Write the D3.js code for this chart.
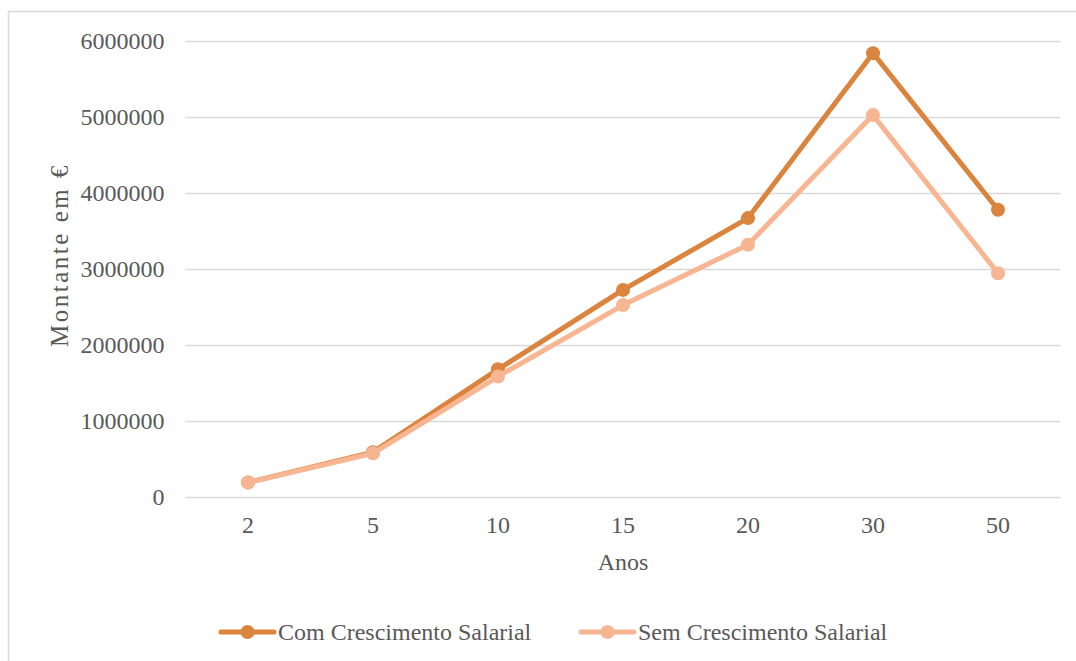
<!DOCTYPE html>
<html>
<head>
<meta charset="utf-8">
<script src="https://cdn.jsdelivr.net/npm/d3@7/dist/d3.min.js"></script>
<style>
  html, body { margin: 0; padding: 0; background: #ffffff; }
  svg { display: block; }
  text { font-family: "Liberation Serif", "Times New Roman", serif; fill: #595959; }
</style>
</head>
<body>
<svg id="chart" width="1076" height="661"></svg>
<script>
// Anos de contribuição (categorias do eixo X)
const anos = ["2", "5", "10", "15", "20", "30", "50"];
// Montante acumulado em euros
const comCrescimento = [192000, 590000, 1680000, 2725000, 3670000, 5840000, 3780000];
const semCrescimento = [190000, 575000, 1585000, 2525000, 3320000, 5025000, 2945000];
const seriesNomes = ["Com Crescimento Salarial", "Sem Crescimento Salarial"];
const seriesCores = ["#DB843D", "#F8B592"];
const yTicks = [0, 1000000, 2000000, 3000000, 4000000, 5000000, 6000000];

const svg = d3.select("#chart");

// Moldura da área do gráfico
svg.append("rect")
  .attr("x", 8.5).attr("y", 11.5)
  .attr("width", 1200).attr("height", 800)
  .attr("fill", "#ffffff")
  .attr("stroke", "#d9d9d9").attr("stroke-width", 1.5);

const plot = { left: 185.5, right: 1060.5, top: 41, bottom: 497 };

const x = d3.scaleBand().domain(anos).range([plot.left, plot.right]);
const y = d3.scaleLinear().domain([0, 6000000]).range([plot.bottom, plot.top]);

// Linhas de grelha horizontais + rótulos do eixo Y
const yAxis = d3.axisLeft(y).tickValues(yTicks).tickSize(-(plot.right - plot.left)).tickPadding(21)
  .tickFormat(d3.format("d"));
const gy = svg.append("g").attr("transform", `translate(${plot.left},0)`).call(yAxis);
gy.select(".domain").remove();
gy.selectAll(".tick line").attr("stroke", "#d9d9d9").attr("stroke-width", 1.3);
gy.selectAll(".tick text")
  .attr("font-size", 24).attr("fill", "#595959")
  .style("font-family", "'Liberation Serif', 'Times New Roman', serif");

// Rótulos do eixo X
const xAxis = d3.axisBottom(x).tickSize(0).tickPadding(0);
const gx = svg.append("g").attr("transform", `translate(0,${plot.bottom})`).call(xAxis);
gx.select(".domain").remove();
gx.selectAll(".tick text")
  .attr("font-size", 24).attr("fill", "#595959")
  .attr("dy", null).attr("y", 36)
  .style("font-family", "'Liberation Serif', 'Times New Roman', serif");

// Títulos dos eixos
svg.append("text")
  .attr("x", (plot.left + plot.right) / 2).attr("y", 570)
  .attr("text-anchor", "middle").attr("font-size", 24)
  .text("Anos");

svg.append("text")
  .attr("transform", `translate(68,255) rotate(-90)`)
  .attr("text-anchor", "middle").attr("font-size", 25)
  .attr("letter-spacing", 2.5)
  .text("Montante em €");

// Séries
const dados = [comCrescimento, semCrescimento];
const line = d3.line()
  .x((d, i) => x(anos[i]) + x.bandwidth() / 2)
  .y(d => y(d));

dados.forEach((serie, k) => {
  const g = svg.append("g");
  g.append("path")
    .datum(serie)
    .attr("d", line)
    .attr("fill", "none")
    .attr("stroke", seriesCores[k])
    .attr("stroke-width", 5)
    .attr("stroke-linejoin", "round")
    .attr("stroke-linecap", "round");
  g.selectAll("circle")
    .data(serie)
    .join("circle")
    .attr("cx", (d, i) => x(anos[i]) + x.bandwidth() / 2)
    .attr("cy", d => y(d))
    .attr("r", 7)
    .attr("fill", seriesCores[k]);
});

// Legenda
const legendX = [221, 581];
const legendY = 632;
seriesNomes.forEach((nome, k) => {
  const g = svg.append("g").attr("transform", `translate(${legendX[k]},${legendY})`);
  g.append("line")
    .attr("x1", 0).attr("x2", 53).attr("y1", 0).attr("y2", 0)
    .attr("stroke", seriesCores[k]).attr("stroke-width", 5).attr("stroke-linecap", "round");
  g.append("circle").attr("cx", 26.5).attr("cy", 0).attr("r", 7).attr("fill", seriesCores[k]);
  g.append("text")
    .attr("x", 57).attr("y", 8).attr("font-size", 24)
    .text(nome);
});
</script>
</body>
</html>
